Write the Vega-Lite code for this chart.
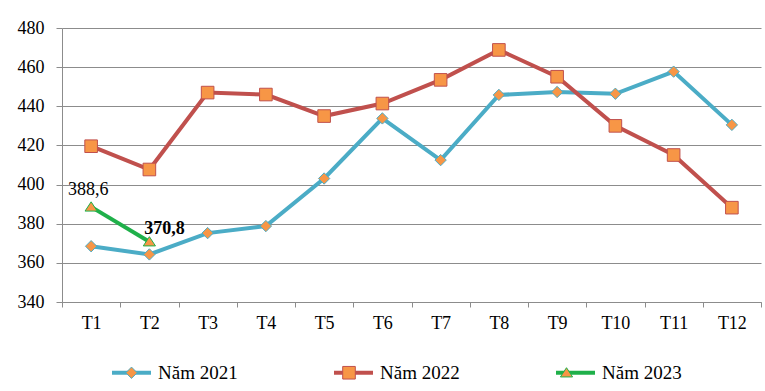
{
  "$schema": "https://vega.github.io/schema/vega-lite/v6.json",
  "width": 699,
  "height": 274,
  "autosize": {"type": "none"},
  "padding": {"left": 62, "top": 28, "right": 4, "bottom": 89},
  "background": "white",
  "config": {"view": {"stroke": null}, "font": "Liberation Serif, Times New Roman, DejaVu Serif, serif"},
  "data": {
    "values": [
      {"month": "T1", "series": "Năm 2021", "value": 368.5},
      {"month": "T2", "series": "Năm 2021", "value": 364.3},
      {"month": "T3", "series": "Năm 2021", "value": 375.2},
      {"month": "T4", "series": "Năm 2021", "value": 378.8},
      {"month": "T5", "series": "Năm 2021", "value": 403.1},
      {"month": "T6", "series": "Năm 2021", "value": 433.8},
      {"month": "T7", "series": "Năm 2021", "value": 412.5},
      {"month": "T8", "series": "Năm 2021", "value": 445.8},
      {"month": "T9", "series": "Năm 2021", "value": 447.3},
      {"month": "T10", "series": "Năm 2021", "value": 446.4},
      {"month": "T11", "series": "Năm 2021", "value": 457.7},
      {"month": "T12", "series": "Năm 2021", "value": 430.5},
      {"month": "T1", "series": "Năm 2022", "value": 419.6},
      {"month": "T2", "series": "Năm 2022", "value": 407.7},
      {"month": "T3", "series": "Năm 2022", "value": 447.0},
      {"month": "T4", "series": "Năm 2022", "value": 446.0},
      {"month": "T5", "series": "Năm 2022", "value": 435.0},
      {"month": "T6", "series": "Năm 2022", "value": 441.4},
      {"month": "T7", "series": "Năm 2022", "value": 453.5},
      {"month": "T8", "series": "Năm 2022", "value": 468.8},
      {"month": "T9", "series": "Năm 2022", "value": 455.1},
      {"month": "T10", "series": "Năm 2022", "value": 430.0},
      {"month": "T11", "series": "Năm 2022", "value": 415.1},
      {"month": "T12", "series": "Năm 2022", "value": 388.2},
      {"month": "T1", "series": "Năm 2023", "value": 388.6, "label": "388,6"},
      {"month": "T2", "series": "Năm 2023", "value": 370.8, "label": "370,8"}
    ]
  },
  "encoding": {
    "x": {
      "field": "month",
      "type": "ordinal",
      "sort": ["T1","T2","T3","T4","T5","T6","T7","T8","T9","T10","T11","T12"],
      "scale": {"type": "band", "paddingInner": 0, "paddingOuter": 0},
      "axis": {
        "title": null,
        "tickBand": "extent",
        "labelAngle": 0,
        "domainColor": "#8c8c8c",
        "tickColor": "#8c8c8c",
        "tickSize": 5,
        "labelFont": "Liberation Serif, Times New Roman, DejaVu Serif, serif",
        "labelFontSize": 18,
        "labelColor": "black",
        "labelPadding": 7,
        "grid": false
      }
    },
    "y": {
      "field": "value",
      "type": "quantitative",
      "scale": {"domain": [340, 480], "zero": false, "nice": false},
      "axis": {
        "title": null,
        "values": [340, 360, 380, 400, 420, 440, 460, 480],
        "grid": true,
        "gridColor": "#8c8c8c",
        "gridWidth": 1,
        "gridOpacity": 1,
        "domainColor": "#8c8c8c",
        "tickColor": "#8c8c8c",
        "tickSize": 6,
        "labelFont": "Liberation Serif, Times New Roman, DejaVu Serif, serif",
        "labelFontSize": 18,
        "labelColor": "black",
        "labelPadding": 12
      }
    }
  },
  "layer": [
    {
      "mark": {"type": "line", "strokeWidth": 4},
      "encoding": {
        "color": {
          "field": "series",
          "type": "nominal",
          "scale": {"domain": ["Năm 2021", "Năm 2022", "Năm 2023"], "range": ["#4BACC6", "#C0504D", "#1FB04A"]},
          "legend": {
            "orient": "none",
            "legendX": 48,
            "legendY": 323,
            "direction": "horizontal",
            "title": null,
            "padding": 0,
            "symbolType": "stroke",
            "symbolSize": 1521,
            "symbolStrokeWidth": 4,
            "labelFont": "Liberation Serif, Times New Roman, DejaVu Serif, serif",
            "labelFontSize": 19,
            "labelColor": "black",
            "labelOffset": 5,
            "columnPadding": 88
          }
        }
      }
    },
    {
      "mark": {"type": "point", "filled": true, "fill": "#F79646", "size": 1764, "strokeWidth": 1, "opacity": 1},
      "encoding": {
        "shape": {
          "field": "series",
          "type": "nominal",
          "scale": {"range": ["M0,-0.27L0.27,0L0,0.27L-0.27,0Z", "M-0.3,-0.3L0.3,-0.3L0.3,0.3L-0.3,0.3Z", "M0,-0.24L0.29,0.2L-0.29,0.2Z"]},
          "legend": {
            "orient": "none",
            "legendX": 48,
            "legendY": 323,
            "direction": "horizontal",
            "title": null,
            "padding": 0,
            "symbolSize": 1764,
            "symbolStrokeWidth": 1,
            "symbolFillColor": "#F79646",
            "labelExpr": "''",
            "labelFontSize": 19,
            "labelOffset": 5,
            "columnPadding": 169.5
          }
        },
        "stroke": {
          "field": "series",
          "type": "nominal",
          "scale": {"range": ["#4BACC6", "#C0504D", "#1FB04A"]},
          "legend": {
            "orient": "none",
            "legendX": 48,
            "legendY": 323,
            "direction": "horizontal",
            "title": null,
            "padding": 0,
            "symbolSize": 1764,
            "symbolStrokeWidth": 1,
            "symbolFillColor": "#F79646",
            "labelExpr": "''",
            "labelFontSize": 19,
            "labelOffset": 5,
            "columnPadding": 169.5
          }
        }
      }
    },
    {
      "transform": [{"filter": "datum.series === 'Năm 2023' && datum.month === 'T1'"}],
      "mark": {"type": "text", "font": "Liberation Serif, Times New Roman, DejaVu Serif, serif", "fontSize": 18, "color": "black", "baseline": "middle", "dy": -17, "dx": -3},
      "encoding": {"text": {"field": "label"}}
    },
    {
      "transform": [{"filter": "datum.series === 'Năm 2023' && datum.month === 'T2'"}],
      "mark": {"type": "text", "font": "Liberation Serif, Times New Roman, DejaVu Serif, serif", "fontSize": 18, "fontWeight": "bold", "color": "black", "baseline": "middle", "dy": -13, "dx": 15},
      "encoding": {"text": {"field": "label"}}
    }
  ]
}
